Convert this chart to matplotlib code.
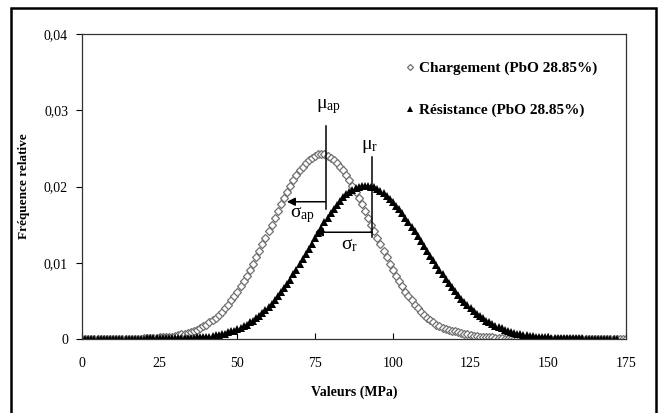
import matplotlib
matplotlib.use('Agg')
import matplotlib.pyplot as plt
from matplotlib.patches import Rectangle

# x grid of the two distributions (MPa, one point per MPa)
valeurs_charg = list(range(0, 176))
valeurs_resis = list(range(0, 173))

# Chargement (PbO 28.85%) - relative frequency
chargement = [
    0.0, 0.0, 0.0, 0.0, 0.0, 0.0, 0.0, 0.0, 0.0, 0.0,
    0.0, 0.0, 0.0, 0.0, 0.0, 0.0, 0.0, 0.0, 0.0, 0.0,
    0.0001, 0.0001, 0.0001, 0.0001, 0.0001, 0.0002, 0.0002, 0.0002, 0.0003, 0.0003,
    0.0004, 0.0005, 0.0006, 0.0007, 0.0008, 0.0009, 0.0011, 0.0012, 0.0014, 0.0017,
    0.0019, 0.0022, 0.0025, 0.0028, 0.0032, 0.0036, 0.0041, 0.0045, 0.0051, 0.0056,
    0.0062, 0.0069, 0.0076, 0.0083, 0.0091, 0.0098, 0.0107, 0.0115, 0.0124, 0.0133,
    0.0141, 0.0150, 0.0159, 0.0168, 0.0177, 0.0185, 0.0193, 0.0201, 0.0208, 0.0215,
    0.0221, 0.0226, 0.0231, 0.0235, 0.0238, 0.0240, 0.0242, 0.0242, 0.0242, 0.0240,
    0.0238, 0.0235, 0.0231, 0.0226, 0.0221, 0.0215, 0.0208, 0.0201, 0.0193, 0.0185,
    0.0177, 0.0168, 0.0159, 0.0150, 0.0141, 0.0133, 0.0124, 0.0115, 0.0107, 0.0098,
    0.0091, 0.0083, 0.0076, 0.0069, 0.0062, 0.0056, 0.0051, 0.0045, 0.0041, 0.0036,
    0.0032, 0.0028, 0.0025, 0.0022, 0.0019, 0.0017, 0.0015, 0.0013, 0.0012, 0.0011,
    0.0010, 0.0009, 0.0008, 0.0007, 0.0006, 0.0005, 0.0004, 0.0004, 0.0003, 0.0003,
    0.0002, 0.0002, 0.0002, 0.0001, 0.0001, 0.0001, 0.0, 0.0, 0.0, 0.0,
    0.0, 0.0, 0.0, 0.0, 0.0, 0.0, 0.0, 0.0, 0.0, 0.0,
    0.0, 0.0, 0.0, 0.0, 0.0, 0.0, 0.0, 0.0, 0.0, 0.0,
    0.0, 0.0, 0.0, 0.0, 0.0, 0.0, 0.0, 0.0, 0.0, 0.0,
    0.0, 0.0, 0.0, 0.0, 0.0, 0.0,
]

# Résistance (PbO 28.85%)
resistance = [
    0.0, 0.0, 0.0, 0.0, 0.0, 0.0, 0.0, 0.0, 0.0, 0.0,
    0.0, 0.0, 0.0, 0.0, 0.0, 0.0, 0.0, 0.0, 0.0, 0.0,
    0.0, 0.0001, 0.0001, 0.0001, 0.0001, 0.0001, 0.0001, 0.0001, 0.0001, 0.0001,
    0.0001, 0.0001, 0.0001, 0.0001, 0.0001, 0.0001, 0.0001, 0.0002, 0.0002, 0.0002,
    0.0003, 0.0003, 0.0004, 0.0005, 0.0005, 0.0006, 0.0007, 0.0009, 0.0010, 0.0011,
    0.0013, 0.0015, 0.0017, 0.0019, 0.0022, 0.0024, 0.0027, 0.0030, 0.0034, 0.0038,
    0.0042, 0.0046, 0.0051, 0.0056, 0.0061, 0.0067, 0.0072, 0.0078, 0.0085, 0.0091,
    0.0098, 0.0105, 0.0111, 0.0118, 0.0125, 0.0132, 0.0139, 0.0146, 0.0153, 0.0159,
    0.0165, 0.0171, 0.0176, 0.0181, 0.0186, 0.0190, 0.0193, 0.0196, 0.0198, 0.0200,
    0.0201, 0.0201, 0.0201, 0.0200, 0.0199, 0.0197, 0.0194, 0.0191, 0.0188, 0.0184,
    0.0180, 0.0175, 0.0170, 0.0165, 0.0159, 0.0153, 0.0147, 0.0141, 0.0135, 0.0128,
    0.0122, 0.0116, 0.0109, 0.0103, 0.0097, 0.0091, 0.0085, 0.0079, 0.0073, 0.0068,
    0.0063, 0.0058, 0.0053, 0.0049, 0.0044, 0.0041, 0.0037, 0.0033, 0.0030, 0.0027,
    0.0024, 0.0022, 0.0020, 0.0017, 0.0016, 0.0014, 0.0012, 0.0011, 0.0009, 0.0008,
    0.0007, 0.0006, 0.0005, 0.0005, 0.0004, 0.0004, 0.0003, 0.0003, 0.0002, 0.0002,
    0.0002, 0.0001, 0.0001, 0.0001, 0.0001, 0.0001, 0.0001, 0.0001, 0.0001, 0.0001,
    0.0001, 0.0001, 0.0, 0.0, 0.0, 0.0, 0.0, 0.0, 0.0, 0.0,
    0.0, 0.0, 0.0,
]

x_ticks = [0, 25, 50, 75, 100, 125, 150, 175]
y_ticks = [0, 0.01, 0.02, 0.03, 0.04]
y_tick_labels = ['0', '0,01', '0,02', '0,03', '0,04']

# mean / std markers (x in MPa, y in relative frequency)
MU_AP_X, MU_AP_TOP, MU_AP_BOT = 78.4, 0.0279, 0.0170
SIG_AP_Y, SIG_AP_END = 0.0180, 65.9
MU_R_X, MU_R_TOP, MU_R_BOT = 93.4, 0.0239, 0.0134
SIG_R_Y, SIG_R_END = 0.0140, 74.9

plt.rcParams['font.family'] = 'Liberation Serif'
plt.rcParams['mathtext.fontset'] = 'custom'
plt.rcParams['mathtext.rm'] = 'Liberation Serif'
plt.rcParams['mathtext.it'] = 'Liberation Serif'

fig = plt.figure(figsize=(6.64, 4.13), dpi=100)
ax = fig.add_axes([82 / 664, 74 / 413, 544 / 664, 305 / 413])

ax.plot(valeurs_charg, chargement, linestyle='none', marker='D', markersize=3.6,
        markerfacecolor='white', markeredgecolor='#707070', markeredgewidth=0.9,
        label='Chargement (PbO 28.85%)')
ax.plot(valeurs_resis, resistance, linestyle='none', marker='^', markersize=5.2,
        color='black', markeredgewidth=0,
        label='Résistance (PbO 28.85%)')

# mu / sigma annotations
ax.plot([MU_AP_X, MU_AP_X], [MU_AP_BOT, MU_AP_TOP], color='black', lw=1.1)
ax.annotate('', xy=(SIG_AP_END, SIG_AP_Y), xytext=(MU_AP_X, SIG_AP_Y),
            arrowprops=dict(arrowstyle='-|>', color='black', lw=1.1, mutation_scale=12,
                            shrinkA=0, shrinkB=0))
ax.plot([MU_R_X, MU_R_X], [MU_R_BOT, MU_R_TOP], color='black', lw=1.1)
ax.annotate('', xy=(SIG_R_END, SIG_R_Y), xytext=(MU_R_X, SIG_R_Y),
            arrowprops=dict(arrowstyle='-|>', color='black', lw=1.1, mutation_scale=12,
                            shrinkA=0, shrinkB=0))
ax.text(79.2, 0.0305, r'$\mathrm{\mu_{ap}}$', fontsize=14, ha='center', va='center')
ax.text(71.0, 0.0163, r'$\mathrm{\sigma_{ap}}$', fontsize=14, ha='center', va='center')
ax.text(92.5, 0.0252, r'$\mathrm{\mu_{r}}$', fontsize=14, ha='center', va='center')
ax.text(86.2, 0.0123, r'$\mathrm{\sigma_{r}}$', fontsize=14, ha='center', va='center')

ax.set_xlim(0, 175)
ax.set_ylim(0, 0.04)
ax.set_xticks(x_ticks)
ax.set_yticks(y_ticks)
ax.set_yticklabels(y_tick_labels)
ax.tick_params(axis='x', direction='in', length=4, pad=13, labelsize=10)
ax.tick_params(axis='y', direction='out', length=4, pad=6, labelsize=10)
for s in ax.spines.values():
    s.set_linewidth(0.9)
    s.set_color('#333333')

ax.set_xlabel('Valeurs (MPa)', fontsize=10, fontweight='bold', labelpad=11)
ax.set_ylabel('Fréquence relative', fontsize=9.5, fontweight='bold', labelpad=10)

ax.legend(loc='upper left', bbox_to_anchor=(0.585, 0.93), frameon=False,
          prop={'size': 11, 'weight': 'bold'}, handlelength=0.5, handletextpad=0.35,
          labelspacing=1.85, borderaxespad=0, markerscale=0.85)

# outer frame around the whole picture
fig.add_artist(Rectangle((11 / 664, -0.05), (655.5 - 11) / 664, 1.05 - 7.5 / 413,
                         transform=fig.transFigure, fill=False, lw=1.8,
                         edgecolor='black', clip_on=False))

fig.savefig('out.png', dpi=100)
